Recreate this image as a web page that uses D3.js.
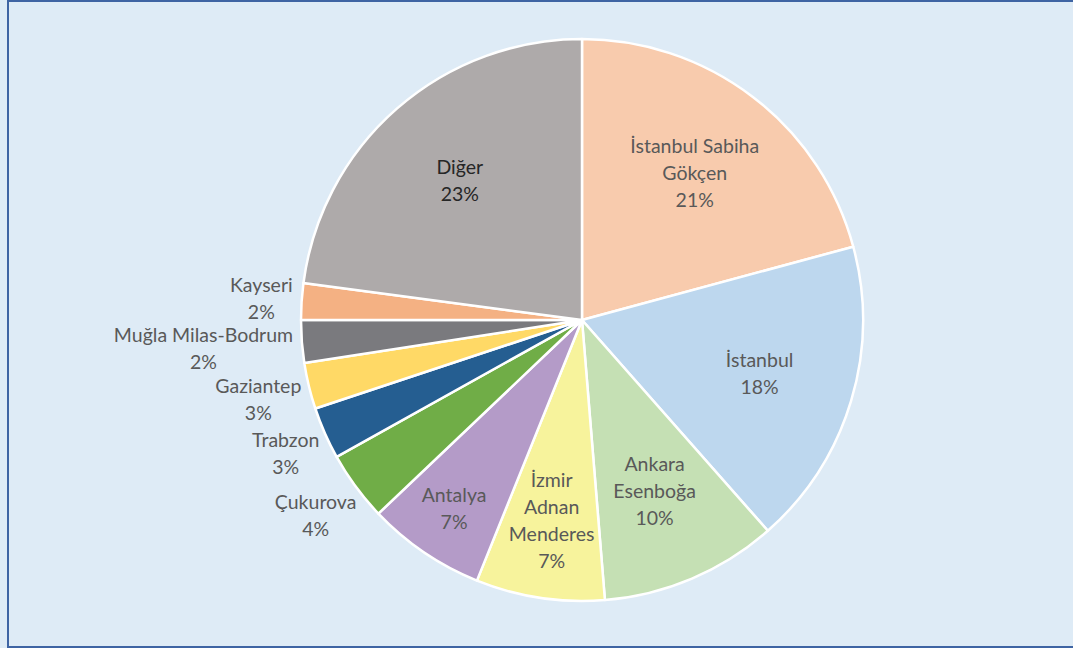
<!DOCTYPE html>
<html>
<head>
<meta charset="utf-8">
<script src="https://cdn.jsdelivr.net/npm/d3@7"></script>
<style>
  html, body { margin: 0; padding: 0; background: #deebf6; }
  svg { display: block; }
  text { font-family: Lato, "Open Sans", sans-serif; }
</style>
</head>
<body>
<svg id="chart"></svg>
<script>
// slices, clockwise from 12 o'clock
var categories = ["İstanbul Sabiha Gökçen", "İstanbul", "Ankara Esenboğa", "İzmir Adnan Menderes",
                  "Antalya", "Çukurova", "Trabzon", "Gaziantep", "Muğla Milas-Bodrum", "Kayseri", "Diğer"];
var labelLines = [["İstanbul Sabiha", "Gökçen"], ["İstanbul"], ["Ankara", "Esenboğa"], ["İzmir", "Adnan", "Menderes"],
                  ["Antalya"], ["Çukurova"], ["Trabzon"], ["Gaziantep"], ["Muğla Milas-Bodrum"], ["Kayseri"], ["Diğer"]];
var shares = [20.8, 17.7, 10.2, 7.4, 6.8, 4.0, 3.0, 2.65, 2.45, 2.1, 22.9];
var colors = ["#f8cbad", "#bdd7ee", "#c5e0b4", "#f7f39c", "#b49bc8", "#70ad47", "#255e91", "#ffd966", "#7a7a7e", "#f4b183", "#aeaaaa"];
var outside = [false, false, false, false, false, true, true, true, true, true, false];

var W = 1073, H = 648,
    cx = 582, cy = 320, radius = 281,
    lineH = 27, fontSize = 19.5;

var svg = d3.select("#chart").attr("width", W).attr("height", H);

// frame
svg.append("rect")
    .attr("x", 8).attr("y", 1)
    .attr("width", W + 10).attr("height", H - 2)
    .attr("fill", "#deebf6")
    .attr("stroke", "#3e64a3")
    .attr("stroke-width", 2);

var data = categories.map(function(c, i) {
    return { name: c, lines: labelLines[i], value: shares[i], color: colors[i], outside: outside[i], dark: c === "Diğer" };
});
var total = d3.sum(shares);
var fmt = d3.format(".0%");

var pie = d3.pie().sort(null).value(function(d) { return d.value; });
var arcs = pie(data);

var arc = d3.arc().innerRadius(0).outerRadius(radius);

var g = svg.append("g").attr("transform", "translate(" + cx + "," + cy + ")");

g.selectAll("path.slice")
    .data(arcs)
  .enter().append("path")
    .attr("class", "slice")
    .attr("d", arc)
    .attr("fill", function(d) { return d.data.color; })
    .attr("stroke", "#ffffff")
    .attr("stroke-width", 2.5)
    .attr("stroke-linejoin", "round");

//
// Labels
//
var labels = g.selectAll("g.label")
    .data(arcs)
  .enter().append("g")
    .attr("class", "label");

var placed = [];

labels.each(function(d) {
    var sel = d3.select(this);
    var lines = d.data.lines.concat([fmt(d.data.value / total)]);
    var t = sel.append("text")
        .attr("text-anchor", "middle")
        .attr("font-size", fontSize)
        .attr("fill", d.data.dark ? "#262626" : "#595959");
    lines.forEach(function(l, i) {
        t.append("tspan").attr("x", 0).attr("y", i * lineH).text(l);
    });
    var widths = t.selectAll("tspan").nodes().map(function(n) { return n.getComputedTextLength(); });

    var mid = (d.startAngle + d.endAngle) / 2,
        s = Math.sin(mid), c = -Math.cos(mid),
        blockH = lines.length * lineH,
        x, y;

    if (d.data.outside) {
        // label box sits just outside the rim, leaning away from the slice
        var w = d3.max(widths);
        var R = radius + 9;
        x = R * s + (w / 2) * s;
        y = R * c + (blockH * 0.75) * c;
    } else {
        // narrow slices push their label further out
        var span = d.endAngle - d.startAngle;
        var f = span >= 0.5 ? 0.66 : (lines.length > 2 ? 0.72 : 0.81);
        x = radius * f * s;
        y = radius * f * c;
    }
    var item = { sel: sel, x: x, y: y, blockH: blockH, widths: widths, outside: d.data.outside };
    placed.push(item);
});

// push outside labels down until their lines no longer collide
function lineBoxes(p) {
    return p.widths.map(function(w, i) {
        var cyl = p.y - p.blockH / 2 + lineH * (i + 0.5);
        return { x0: p.x - w / 2, x1: p.x + w / 2, y0: cyl - fontSize * 0.6, y1: cyl + fontSize * 0.6 };
    });
}
var outs = placed.filter(function(p) { return p.outside; })
    .sort(function(a, b) { return a.y - b.y; });
outs.forEach(function(p, k) {
    for (var j = 0; j < k; j++) {
        var prev = lineBoxes(outs[j]);
        lineBoxes(p).forEach(function(b) {
            prev.forEach(function(a) {
                if (b.x0 < a.x1 && b.x1 > a.x0 && b.y0 < a.y1 && b.y1 > a.y0) p.y += a.y1 - b.y0;
            });
        });
    }
});

placed.forEach(function(p) {
    p.sel.attr("transform", "translate(" + p.x + "," + (p.y - p.blockH / 2 + lineH * 0.76) + ")");
});
</script>
</body>
</html>
